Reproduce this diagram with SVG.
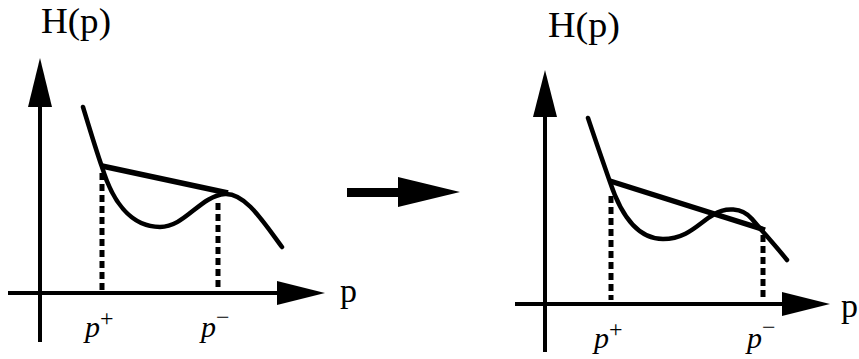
<svg xmlns="http://www.w3.org/2000/svg" width="859" height="359" viewBox="0 0 859 359">
<defs>
<style>
.ax{stroke:#000;stroke-width:4;fill:none}
.ah{fill:#000}
.cv{stroke:#000;stroke-width:4.5;fill:none;stroke-linecap:round}
.tg{stroke:#000;stroke-width:5.5;fill:none;stroke-linecap:butt}
.ds{stroke:#000;stroke-width:5;fill:none;stroke-dasharray:7,4}
.lbl{font-family:"Liberation Serif",serif;fill:#000}
.it{font-family:"Liberation Serif",serif;font-style:italic;fill:#000;font-size:30px}
.sup{font-style:normal;font-size:24px}
</style>
</defs>
<rect width="859" height="359" fill="#fff"/>
<g id="left-plot">
<g id="left-axes">
<line class="ax" x1="40" y1="342" x2="40" y2="100"/>
<polygon class="ah" points="40,58 28,107 52,107"/>
<line class="ax" x1="8" y1="293" x2="280" y2="293"/>
<polygon class="ah" points="325,293 277,281 277,305"/>
</g>
<text class="lbl" x="41" y="33" font-size="36" textLength="70" lengthAdjust="spacingAndGlyphs">H(p)</text>
<text class="lbl" x="340" y="302" font-size="34">p</text>
<path class="cv" d="M83,107 C90,130 96,150 102,167 C112,200 130,227 160,227 C185,227 200,196 225,194 C245,193 262,220 282,247"/>
<line class="tg" x1="102" y1="166" x2="228" y2="193"/>
<line class="ds" x1="102" y1="173" x2="102" y2="290"/>
<line class="ds" x1="218" y1="203" x2="218" y2="290"/>
<text class="it" x="85" y="337">p<tspan class="sup" dy="-11">+</tspan></text>
<text class="it" x="201" y="337">p<tspan class="sup" dy="-12">−</tspan></text>
</g>
<g id="transform-arrow">
<rect x="347" y="188" width="52" height="9" fill="#000"/>
<polygon class="ah" points="398,177 460,192 398,207"/>
</g>
<g id="right-plot">
<g id="right-axes">
<line class="ax" x1="545" y1="352" x2="545" y2="110"/>
<polygon class="ah" points="545,70 533,117 557,117"/>
<line class="ax" x1="515" y1="304" x2="786" y2="304"/>
<polygon class="ah" points="830,304 782,292 782,316"/>
</g>
<text class="lbl" x="548" y="37" font-size="36" textLength="72" lengthAdjust="spacingAndGlyphs">H(p)</text>
<text class="lbl" x="841" y="317" font-size="34">p</text>
<path class="cv" d="M588,118 C596,142 603,162 610,182 C622,218 640,239 663,239 C688,239 700,222 713,215 C725,207 742,207 752,219 C762,231 775,245 787,260"/>
<line class="tg" x1="610" y1="181" x2="765" y2="230"/>
<line class="ds" x1="611" y1="196" x2="611" y2="300"/>
<line class="ds" x1="763" y1="235" x2="763" y2="300"/>
<text class="it" x="594" y="348">p<tspan class="sup" dy="-11">+</tspan></text>
<text class="it" x="747" y="348">p<tspan class="sup" dy="-13">−</tspan></text>
</g>
</svg>
